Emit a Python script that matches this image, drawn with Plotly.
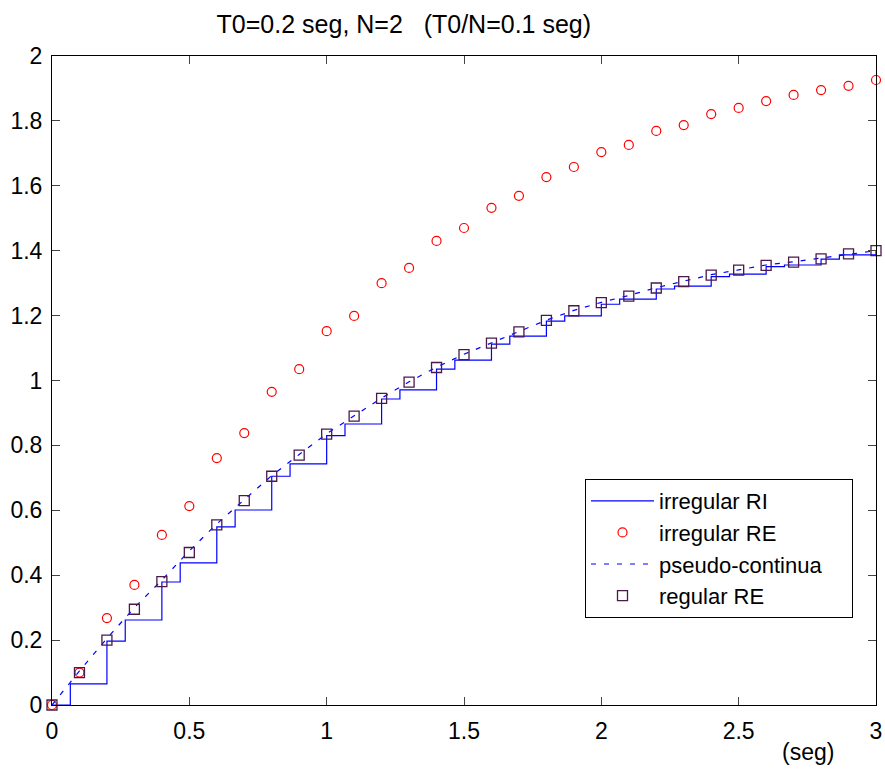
import plotly.graph_objects as go

# ---- data ----
t_grid = [0, 0.1, 0.2, 0.3, 0.4, 0.5, 0.6, 0.7, 0.8, 0.9, 1.0, 1.1, 1.2, 1.3, 1.4, 1.5,
          1.6, 1.7, 1.8, 1.9, 2.0, 2.1, 2.2, 2.3, 2.4, 2.5, 2.6, 2.7, 2.8, 2.9, 3.0]

# irregular RE (circles)
y_irr_re = [0, 0.10, 0.268, 0.37, 0.524, 0.613, 0.761, 0.838, 0.965, 1.035, 1.152, 1.199,
            1.30, 1.347, 1.43, 1.47, 1.532, 1.569, 1.627, 1.658, 1.704, 1.726, 1.769,
            1.787, 1.821, 1.84, 1.861, 1.88, 1.895, 1.908, 1.926]

# regular RE (squares)
y_reg_re = [0, 0.10, 0.20, 0.295, 0.38, 0.47, 0.555, 0.63, 0.705, 0.77, 0.835, 0.89,
            0.945, 0.995, 1.04, 1.08, 1.115, 1.15, 1.185, 1.215, 1.24, 1.26, 1.285,
            1.305, 1.325, 1.34, 1.355, 1.365, 1.375, 1.39, 1.40]

# pseudo-continua (dashed)
t_pc = t_grid
y_pc = [0, 0.105, 0.205, 0.30, 0.385, 0.475, 0.558, 0.633, 0.707, 0.772, 0.836, 0.891,
        0.946, 0.996, 1.041, 1.081, 1.117, 1.151, 1.186, 1.216, 1.241, 1.262, 1.286,
        1.306, 1.326, 1.341, 1.356, 1.366, 1.377, 1.390, 1.400]

# irregular RI (staircase, zero-order hold)
t_irr_ri = [0, 0.0667, 0.2, 0.2667, 0.4, 0.4667, 0.6, 0.6667, 0.8, 0.8667, 1.0, 1.0667,
            1.2, 1.2667, 1.4, 1.4667, 1.6, 1.6667, 1.8, 1.8667, 2.0, 2.0667, 2.2, 2.2667,
            2.4, 2.4667, 2.6, 2.6667, 2.8, 2.8667, 3.0]
y_irr_ri = [0, 0.065, 0.197, 0.262, 0.379, 0.438, 0.549, 0.601, 0.705, 0.743, 0.83, 0.866,
            0.943, 0.971, 1.035, 1.063, 1.112, 1.137, 1.183, 1.199, 1.235, 1.251, 1.282,
            1.291, 1.32, 1.328, 1.351, 1.356, 1.374, 1.387, 1.40]

x_ticks = [0, 0.5, 1, 1.5, 2, 2.5, 3]
x_ticklabels = ["0", "0.5", "1", "1.5", "2", "2.5", "3"]
y_ticks = [0, 0.2, 0.4, 0.6, 0.8, 1.0, 1.2, 1.4, 1.6, 1.8, 2.0]
y_ticklabels = ["0", "0.2", "0.4", "0.6", "0.8", "1", "1.2", "1.4", "1.6", "1.8", "2"]

FONT = "Liberation Sans, Arial, sans-serif"

fig = go.Figure()
fig.add_trace(go.Scatter(x=t_irr_ri, y=y_irr_ri, mode="lines", name="irregular RI",
                         line=dict(color="#0000ff", width=1.2, shape="hv")))
fig.add_trace(go.Scatter(x=t_grid, y=y_irr_re, mode="markers", name="irregular RE",
                         marker=dict(symbol="circle-open", size=9, color="#ff0000",
                                     line=dict(width=1.2, color="#ff0000")),
                         cliponaxis=False))
fig.add_trace(go.Scatter(x=t_pc, y=y_pc, mode="lines",
                         name="pseudo-continua\u00a0\u00a0\u00a0\u00a0",
                         line=dict(color="#0000ff", width=1.2, dash="5px,8px")))
fig.add_trace(go.Scatter(x=t_grid, y=y_reg_re, mode="markers", name="regular RE",
                         marker=dict(symbol="square-open", size=10, color="#4a1a4a",
                                     line=dict(width=1.3, color="#4a1a4a")),
                         cliponaxis=False))

axis_common = dict(showgrid=False, zeroline=False, showline=True, linecolor="black",
                   linewidth=1, mirror="ticks", ticks="inside", ticklen=8,
                   tickcolor="#444444", automargin=False,
                   tickfont=dict(family=FONT, size=23, color="black"))

fig.update_xaxes(range=[0, 3], tickvals=x_ticks, ticktext=x_ticklabels,
                 ticklabelstandoff=5, **axis_common)
fig.update_yaxes(range=[0, 2], tickvals=y_ticks, ticktext=y_ticklabels,
                 ticklabelstandoff=4, **axis_common)

fig.update_layout(
    width=885, height=769,
    margin=dict(l=52, r=9, t=56, b=64, autoexpand=False),
    paper_bgcolor="white", plot_bgcolor="white",
    font=dict(family=FONT, size=23, color="black"),
    title=dict(text="T0=0.2 seg, N=2\u00a0\u00a0\u00a0(T0/N=0.1 seg)",
               x=0.427, xref="paper", xanchor="center",
               y=(769 - 24) / 769, yref="container", yanchor="middle",
               font=dict(family=FONT, size=25, color="black")),
    legend=dict(x=(585 - 52) / 824, y=(705 - 479) / 649, xanchor="left", yanchor="top",
                bgcolor="white", bordercolor="black", borderwidth=1,
                font=dict(family=FONT, size=22, color="black"),
                itemwidth=63, tracegroupgap=0),
    showlegend=True,
    annotations=[dict(text="(seg)", x=(808 - 52) / 824, y=(769 - 64 - 752) / 649,
                      xref="paper", yref="paper", xanchor="center", yanchor="middle",
                      showarrow=False, font=dict(family=FONT, size=23, color="black"))],
)

fig.write_html("out.html")
